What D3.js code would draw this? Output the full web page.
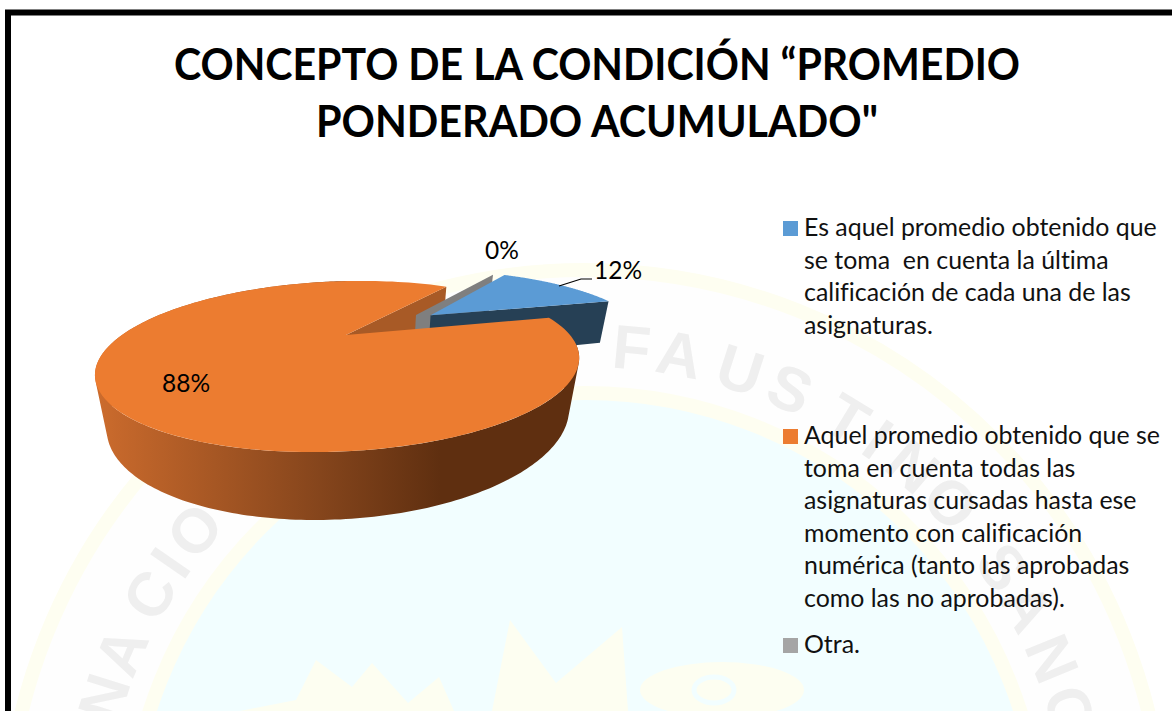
<!DOCTYPE html>
<html><head><meta charset="utf-8">
<script src="https://cdn.jsdelivr.net/npm/d3@7/dist/d3.min.js"></script>
<style>html,body{margin:0;padding:0;background:#fff}svg{display:block}</style>
</head><body><svg id="c" width="1172" height="711"></svg>
<script>
const titleLines = ["CONCEPTO DE LA CONDICIÓN “PROMEDIO", "PONDERADO ACUMULADO\""];
const legendLines = [["Es aquel promedio obtenido que","se toma  en cuenta la última","calificación de cada una de las","asignaturas."],
  ["Aquel promedio obtenido que se","toma en cuenta todas las","asignaturas cursadas hasta ese","momento con calificación","numérica (tanto las aprobadas","como las no aprobadas)."],
  ["Otra."]];
const values = [12.4, 87.6, 0];
const colors = ["#5B9BD5", "#EC7C30", "#A5A5A5"];
const cutColors = ["#264055", "#A85A26", "#7F7F7F"];
const wmLetters = ["N","A","C","I","O","F","A","U","S","T","I","N","O","S","A","N","C"];
const wmAngles = [-72.4,-66.8,-59.6,-55.3,-50.7,5.3,10.8,17.9,24,31.3,35.5,40.5,46.5,55.9,61.2,67.7,73.8];

const svg = d3.select("#c");
const W = 1172, H = 711;
svg.append("rect").attr("width",W).attr("height",H).attr("fill","#fff");

// faint watermark seal
const wm = svg.append("g");
const sc = [585,850];
wm.append("circle").attr("cx",sc[0]).attr("cy",sc[1]).attr("r",580).attr("fill","#FEFEFE").attr("stroke","#FEFEF1").attr("stroke-width",14);
wm.append("circle").attr("cx",sc[0]).attr("cy",sc[1]).attr("r",457).attr("fill","#F2FEFF").attr("stroke","#FEFEF1").attr("stroke-width",14);
wmLetters.forEach((l,i)=>wm.append("text").attr("transform",`translate(${sc[0]},${sc[1]}) rotate(${wmAngles[i]}) translate(0,-483)`)
  .attr("text-anchor","middle").attr("font-family","'Liberation Sans',sans-serif").attr("font-weight",700).attr("font-size",62).attr("fill","#EFEFEF").text(l));
const crown = d3.line();
wm.append("path").attr("fill","#FDFEF1").attr("d",crown([[240,711],[296,700],[316,660],[352,687],[372,663],[408,703],[439,677],[454,711]])+"Z");
wm.append("path").attr("fill","#FDFEF1").attr("d",crown([[492,711],[510,620],[556,683],[622,627],[628,711]])+"Z");
wm.append("ellipse").attr("cx",722).attr("cy",690).attr("rx",82).attr("ry",28).attr("fill","#FDFEF1");
wm.append("ellipse").attr("cx",714).attr("cy",690).attr("rx",20).attr("ry",13).attr("fill","none").attr("stroke","#F2FEFF").attr("stroke-width",5);

const defs = svg.append("defs");
const grad = defs.append("linearGradient").attr("id","wall").attr("gradientUnits","userSpaceOnUse")
  .attr("x1",96).attr("x2",578).attr("y1",0).attr("y2",0);
[[0,"#CC6C2D"],[0.05,"#C4672B"],[0.465,"#85451C"],[0.714,"#5F2F10"],[1,"#5F2F10"]].forEach(s=>grad.append("stop").attr("offset",s[0]).attr("stop-color",s[1]));

// perspective projection of the pie: X,Z on the disc plane, D = depth (0 top, 1 bottom)
const P = {cx:346, cy:335, ax:224, sh:21, az:74, k:0.368, m:0.041, dy:50.5};
function proj(X,Z,D){ const w = 1 + P.k*Z + P.m*D;
  return [P.cx + (P.ax*X + P.sh*Z)/w, P.cy + (-P.az*Z + P.dy*D)/w]; }

const startDeg = 30.6;
const pie = d3.pie().sort(null).value(d=>d).startAngle(startDeg*Math.PI/180).endAngle((startDeg+360)*Math.PI/180);
const arcs = pie(values);
const explode = [{a:arcs[0].startAngle/2+arcs[0].endAngle/2, d:0.49},{a:0,d:0},{a:46.7*Math.PI/180,d:0.438}];
const off = i => [explode[i].d*Math.sin(explode[i].a), explode[i].d*Math.cos(explode[i].a)];
const rim = (i,t,D) => { const o=off(i); return proj(o[0]+Math.sin(t), o[1]+Math.cos(t), D); };
const apex = (i,D) => { const o=off(i); return proj(o[0],o[1],D); };
const line = d3.line();
const arcPts = (i,a0,a1,D,n=160) => d3.range(n+1).map(j=>rim(i,a0+(a1-a0)*j/n,D));
const cutFace = (i,t) => line([apex(i,0),rim(i,t,0),rim(i,t,1),apex(i,1)])+"Z";
const face = i => line([apex(i,0),...arcPts(i,arcs[i].startAngle,arcs[i].endAngle,0)])+"Z";

const g = svg.append("g");
// orange wall as one path of quads with one winding, so no seams or holes show
{ const n=300, a0=arcs[1].startAngle, a1=arcs[1].endAngle-0.45; let d="";
  for(let j=0;j<n;j++){ const t0=a0+(a1-a0)*j/n, t1=a0+(a1-a0)*(j+1)/n;
    const q=[rim(1,t0,0),rim(1,t1,0),rim(1,t1,1),rim(1,t0,1)];
    if(d3.polygonArea(q)<0) q.reverse();
    d+=line(q)+"Z";
  }
  g.append("path").attr("d",d).attr("fill","url(#wall)");
}
// orange cut face on the notch
g.append("path").attr("d",cutFace(1,arcs[1].endAngle)).attr("fill",cutColors[1]);
// grey zero slice: only its cut face
g.append("path").attr("d",cutFace(2,arcs[2].startAngle)).attr("fill",cutColors[2]);
// blue slice
g.append("path").attr("d",cutFace(0,arcs[0].endAngle)).attr("fill",cutColors[0]);
g.append("path").attr("d",face(0)).attr("fill",colors[0]);
// orange top
g.append("path").attr("d",face(1)).attr("fill",colors[1]);

// labels
const lab = svg.append("g").attr("font-family","Lato, sans-serif").attr("font-size",24.5).attr("fill","#000");
const pct = d3.format(".0f");
lab.append("text").attr("x",502).attr("y",259).attr("text-anchor","middle").text(pct(values[2])+"%");
lab.append("text").attr("x",594).attr("y",279).text(pct(values[0])+"%");
lab.append("text").attr("x",186).attr("y",392).attr("text-anchor","middle").text(pct(values[1])+"%");
svg.append("path").attr("d",line([[559,286],[581,279],[592,279]])).attr("fill","none").attr("stroke","#000").attr("stroke-width",1.2);

// legend
const leg = svg.append("g").attr("font-family","Lato, sans-serif").attr("font-size",24.9).attr("fill","#111");
const legTop = [236,444,653], lh = 32.6;
legendLines.forEach((ls,i)=>{
  leg.append("rect").attr("x",783).attr("y",legTop[i]-15).attr("width",15).attr("height",15).attr("fill",colors[i]);
  ls.forEach((t,j)=>leg.append("text").attr("x",804).attr("y",legTop[i]+j*lh).style("white-space","pre").style("font-variant-ligatures","none").text(t));
});

// title
const tt = svg.append("g").attr("font-family","Lato, sans-serif").attr("font-weight",700).attr("font-size",44).attr("fill","#000");
const titleW = [846,562];
titleLines.forEach((t,i)=>tt.append("text").attr("x",597-titleW[i]/2).attr("y",80+i*57)
  .attr("textLength",titleW[i]).attr("lengthAdjust","spacingAndGlyphs").text(t));

// frame
svg.append("path").attr("d","M8,711V12.5H1172").attr("fill","none").attr("stroke","#000").attr("stroke-width",6);
</script></body></html>
